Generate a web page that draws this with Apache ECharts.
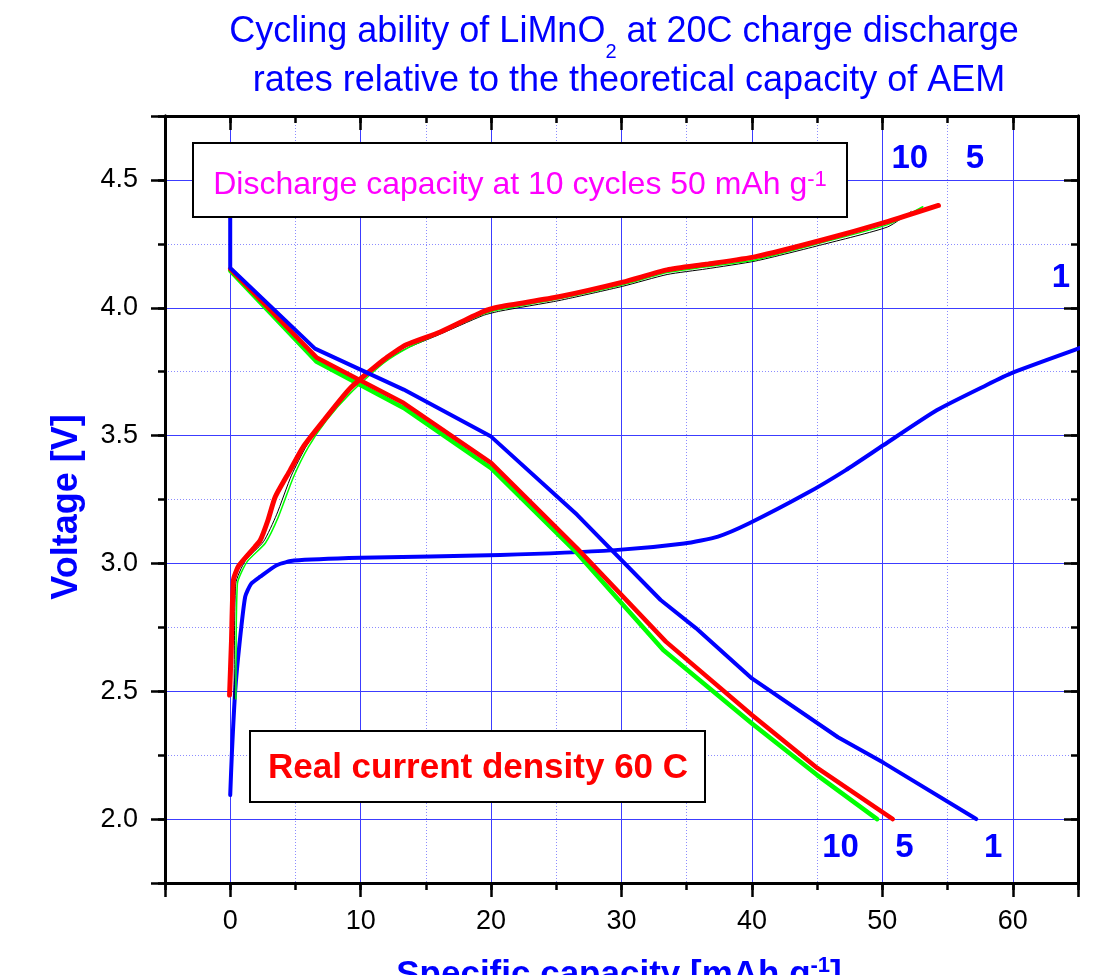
<!DOCTYPE html>
<html>
<head>
<meta charset="utf-8">
<script src="https://cdn.jsdelivr.net/npm/echarts@6/dist/echarts.min.js"></script>
<style>
  html, body { margin: 0; padding: 0; background: #ffffff; }
  #chart { width: 1108px; height: 975px; }
</style>
</head>
<body>
<div id="chart"></div>
<script>
// Voltage profiles of LiMnO2: [specific capacity (mAh/g), voltage (V)]
const charge1 = [[0,2.094],[0.13,2.26],[0.38,2.5],[0.7,2.68],[1.15,2.87],[1.6,2.92],[2.3,2.948],[3.6,2.994],[4.9,3.011],[10,3.022],[20.7,3.033],[29.5,3.052],[34.8,3.078],[37.4,3.105],[39.8,3.157],[44.2,3.274],[47.2,3.365],[50.1,3.463],[54.2,3.6],[58,3.698],[60,3.746],[65,3.84],[67,3.88]];
const discharge1 = [[0,4.42],[0,4.156],[6.5,3.84],[13.3,3.68],[20,3.496],[26.6,3.19],[33.0,2.857],[35.7,2.747],[40,2.55],[46.6,2.32],[50.1,2.22],[57.2,2.0]];

const charge5 = [[-0.05,2.485],[0.1,2.7],[0.25,2.935],[0.65,2.99],[1.9,3.065],[2.3,3.09],[2.9,3.17],[3.45,3.26],[4.6,3.365],[5.6,3.456],[7.2,3.561],[9.2,3.685],[11.75,3.796],[13.5,3.855],[16.1,3.905],[19.4,3.985],[20.7,4.004],[25.2,4.043],[30.1,4.1],[33.5,4.148],[36.5,4.17],[40.3,4.2],[45.4,4.265],[50.4,4.337],[54.3,4.4]];
const discharge5 = [[0,4.152],[6.65,3.804],[13.3,3.627],[20,3.393],[26.6,3.059],[33.4,2.694],[40,2.407],[45,2.2],[50.8,2.0]];

const charge10 = [[0.44,2.47],[0.55,2.92],[1.3,3.007],[2.7,3.08],[3.7,3.183],[4.86,3.339],[6.0,3.456],[7.4,3.561],[9.2,3.665],[11.75,3.783],[13.7,3.845],[15.85,3.895],[19.4,3.975],[20.7,3.993],[25.2,4.035],[30.1,4.09],[33.5,4.138],[36.5,4.16],[40.3,4.188],[45.4,4.255],[50.4,4.325],[53.1,4.395]];
const charge10b = [[0.3,2.47],[0.42,2.92],[1.15,3.01],[2.55,3.085],[3.55,3.19],[4.7,3.345],[5.85,3.46],[7.25,3.565],[9.05,3.67],[11.6,3.785],[13.6,3.843],[15.8,3.89],[19.4,3.97],[20.7,3.987],[25.2,4.028],[30.1,4.084],[33.5,4.13],[36.5,4.152],[40.3,4.183],[45.4,4.247],[50.4,4.316],[52.2,4.376]];
const discharge10 = [[0,4.145],[6.6,3.79],[13.3,3.608],[20,3.373],[26.6,3.04],[33.2,2.661],[40,2.374],[45,2.172],[49.6,2.0]];

// Axis tick labels
const xTickLabels = [0, 10, 20, 30, 40, 50, 60];
const yTickLabels = ['2.0', '2.5', '3.0', '3.5', '4.0', '4.5'];

// Cycle-number tags: [text, capacity, voltage]
const cycleTags = [
  ['10', 52.1, 4.583], ['5', 57.1, 4.583], ['1', 63.7, 4.117],
  ['10', 46.8, 1.889], ['5', 51.7, 1.889], ['1', 58.5, 1.889]
];

const FONT = '"Liberation Sans", Arial, Helvetica, sans-serif';
const BLUE = '#0000ff';
const GRID_MAJOR = '#3c3cff';
const GRID_MINOR = '#8c8cff';

const box = { left: 165, right: 30, top: 116, bottom: 92, containLabel: false };
const X_RANGE = { min: -5, max: 65 };
const Y_RANGE = { min: 1.75, max: 4.75 };

function xLabel(v) {
  const r = Math.round(v * 1000) / 1000;
  return xTickLabels.indexOf(r) >= 0 ? String(r) : '';
}
function yLabel(v) {
  const s = (Math.round(v * 1000) / 1000).toFixed(1);
  return (Math.abs(v * 2 - Math.round(v * 2)) < 1e-6 && yTickLabels.indexOf(s) >= 0) ? s : '';
}

function frameAxis(opts) {
  return Object.assign({
    type: 'value',
    axisLine: { show: true, onZero: false, lineStyle: { color: '#000', width: 3 } },
    axisTick: { show: true, lineStyle: { color: '#000', width: 2.5 } },
    axisLabel: { show: false },
    splitLine: { show: false }
  }, opts);
}

const tickStyle = { color: '#000', width: 2.5 };

const xAxes = [
  // major: labels, outward ticks, solid grid (drawn above the dotted minor grid)
  frameAxis(Object.assign({}, X_RANGE, {
    gridIndex: 0, position: 'bottom', minInterval: 10, maxInterval: 10, splitNumber: 7, z: 1,
    axisTick: { show: true, inside: false, length: 14, lineStyle: tickStyle },
    axisLabel: { show: true, margin: 25, color: '#000', fontSize: 27, fontFamily: FONT, formatter: xLabel },
    splitLine: { show: true, lineStyle: { color: GRID_MAJOR, width: 1 } }
  })),
  frameAxis(Object.assign({}, X_RANGE, {
    gridIndex: 0, position: 'top', minInterval: 10, maxInterval: 10, splitNumber: 7, z: 1,
    axisTick: { show: true, inside: true, length: 14, lineStyle: tickStyle }
  })),
  // minor: every 5, dotted grid
  frameAxis(Object.assign({}, X_RANGE, {
    gridIndex: 1, position: 'bottom', interval: 5, z: 0,
    axisTick: { show: true, inside: false, length: 7, lineStyle: tickStyle },
    splitLine: { show: true, lineStyle: { color: GRID_MINOR, width: 1, type: [1, 2] } }
  })),
  frameAxis(Object.assign({}, X_RANGE, {
    gridIndex: 1, position: 'top', interval: 5, z: 0,
    axisTick: { show: true, inside: true, length: 7, lineStyle: tickStyle }
  }))
];

const yAxes = [
  frameAxis(Object.assign({}, Y_RANGE, {
    gridIndex: 0, position: 'left', minInterval: 0.5, maxInterval: 0.5, splitNumber: 6, z: 1,
    axisTick: { show: true, inside: false, length: 14, lineStyle: tickStyle },
    axisLabel: { show: true, margin: 27, color: '#000', fontSize: 27, fontFamily: FONT, formatter: yLabel },
    splitLine: { show: true, lineStyle: { color: GRID_MAJOR, width: 1 } }
  })),
  frameAxis(Object.assign({}, Y_RANGE, {
    gridIndex: 0, position: 'right', minInterval: 0.5, maxInterval: 0.5, splitNumber: 6, z: 1,
    axisTick: { show: true, inside: true, length: 14, lineStyle: tickStyle }
  })),
  frameAxis(Object.assign({}, Y_RANGE, {
    gridIndex: 1, position: 'left', interval: 0.25, z: 0,
    axisTick: { show: true, inside: false, length: 7, lineStyle: tickStyle },
    splitLine: { show: true, lineStyle: { color: GRID_MINOR, width: 1, type: [1, 2] } }
  })),
  frameAxis(Object.assign({}, Y_RANGE, {
    gridIndex: 1, position: 'right', interval: 0.25, z: 0,
    axisTick: { show: true, inside: true, length: 7, lineStyle: tickStyle }
  }))
];

function curve(name, data, color, width, smooth) {
  return {
    name: name, type: 'line', xAxisIndex: 0, yAxisIndex: 0, data: data,
    showSymbol: false, symbol: 'none', clip: true, silent: true,
    smooth: smooth ? 0.2 : false,
    lineStyle: { color: color, width: width, cap: 'round', join: 'round' },
    z: 3
  };
}

const chart = echarts.init(document.getElementById('chart'), null, { renderer: 'canvas' });

chart.setOption({
  animation: false,
  backgroundColor: '#ffffff',
  grid: [Object.assign({}, box), Object.assign({}, box)],
  xAxis: xAxes,
  yAxis: yAxes,
  series: [
    curve('charge 1', charge1, BLUE, 4, true),
    curve('charge 10 (trace)', charge10b, '#000000', 1, true),
    curve('charge 10', charge10, '#00ff00', 1.5, true),
    curve('discharge 10', discharge10, '#00ff00', 4.5, false),
    curve('charge 5', charge5, '#ff0000', 5, true),
    curve('discharge 5', discharge5, '#ff0000', 4.5, false),
    curve('discharge 1', discharge1, BLUE, 4, false)
  ]
});

// annotations
const tagEls = cycleTags.map(function (t) {
  const p = chart.convertToPixel({ gridIndex: 0 }, [t[1], t[2]]);
  return {
    type: 'text', x: p[0], y: p[1], z: 120,
    style: {
      text: t[0], fill: BLUE, fontSize: 33, fontWeight: 'bold', fontFamily: FONT,
      align: 'center', verticalAlign: 'middle', textAlign: 'center', textVerticalAlign: 'middle'
    }
  };
});

chart.setOption({
  graphic: [
    {
      type: 'text', x: 624, y: 14, z: 120,
      style: {
        text: '{t|Cycling ability of LiMnO}{s|2}{t| at 20C charge discharge}',
        align: 'center', verticalAlign: 'top', textAlign: 'center', textVerticalAlign: 'top',
        rich: {
          t: { fontSize: 36, fontFamily: FONT, lineHeight: 40, verticalAlign: 'top', fill: BLUE, color: BLUE },
          s: { fontSize: 20, fontFamily: FONT, lineHeight: 20, padding: [28, 0, 0, 0], verticalAlign: 'top', fill: BLUE, color: BLUE }
        }
      }
    },
    {
      type: 'text', x: 624, y: 81, z: 120,
      style: {
        text: ' rates relative to the theoretical capacity of AEM', fill: BLUE, fontSize: 36, fontFamily: FONT,
        align: 'center', verticalAlign: 'middle', textAlign: 'center', textVerticalAlign: 'middle'
      }
    },
    {
      type: 'rect', z: 110,
      shape: { x: 193, y: 143, width: 654, height: 74 },
      style: { fill: '#ffffff', stroke: '#000000', lineWidth: 2 }
    },
    {
      type: 'text', x: 520, y: 169, z: 120,
      style: {
        text: '{m|Discharge capacity at 10 cycles 50 mAh g}{s|-1}',
        align: 'center', verticalAlign: 'top', textAlign: 'center', textVerticalAlign: 'top',
        rich: {
          m: { fontSize: 32, fontFamily: FONT, lineHeight: 36, verticalAlign: 'top', fill: '#ff00ff', color: '#ff00ff' },
          s: { fontSize: 22, fontFamily: FONT, lineHeight: 22, verticalAlign: 'top', fill: '#ff00ff', color: '#ff00ff' }
        }
      }
    },
    {
      type: 'rect', z: 110,
      shape: { x: 250, y: 731, width: 455, height: 71 },
      style: { fill: '#ffffff', stroke: '#000000', lineWidth: 2 }
    },
    {
      type: 'text', x: 478, y: 768, z: 120,
      style: {
        text: 'Real current density 60 C', fill: '#ff0000', fontSize: 35, fontWeight: 'bold', fontFamily: FONT,
        align: 'center', verticalAlign: 'middle', textAlign: 'center', textVerticalAlign: 'middle'
      }
    },
    {
      type: 'text', x: 67, y: 507, rotation: Math.PI / 2, z: 120,
      style: {
        text: 'Voltage [V]', fill: BLUE, fontSize: 36, fontWeight: 'bold', fontFamily: FONT,
        align: 'center', verticalAlign: 'middle', textAlign: 'center', textVerticalAlign: 'middle'
      }
    },
    {
      type: 'text', x: 619, y: 955, z: 120,
      style: {
        text: '{b|Specific capacity [mAh g}{s|-1}{b|]}',
        align: 'center', verticalAlign: 'top', textAlign: 'center', textVerticalAlign: 'top',
        rich: {
          b: { fontSize: 35, fontWeight: 'bold', fontFamily: FONT, lineHeight: 40, padding: [3, 0, 0, 0], verticalAlign: 'top', fill: BLUE, color: BLUE },
          s: { fontSize: 22, fontWeight: 'bold', fontFamily: FONT, lineHeight: 22, verticalAlign: 'top', fill: BLUE, color: BLUE }
        }
      }
    }
  ].concat(tagEls)
});
</script>
</body>
</html>
